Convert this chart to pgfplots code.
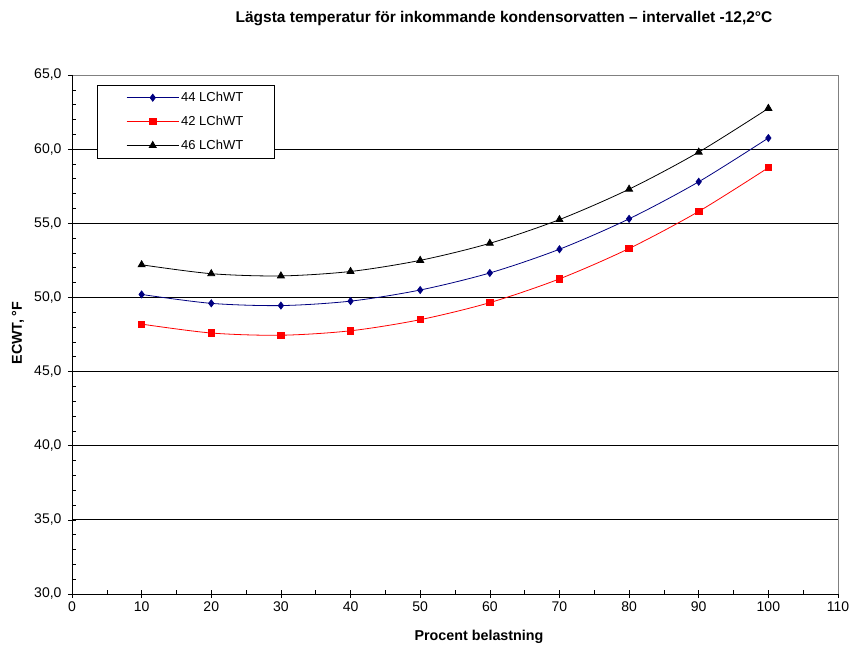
\documentclass[border=0pt]{standalone}
\usepackage{fontspec}
\setmainfont{Liberation Sans}
\usepackage{pgfplots}
\pgfplotsset{compat=1.18}
\definecolor{navyline}{HTML}{000080}
\definecolor{redline}{HTML}{FF0000}
\definecolor{frame}{HTML}{808080}

\begin{document}
\begin{tikzpicture}
\useasboundingbox (-72pt,-53pt) rectangle (779pt,594pt);
\begin{axis}[
  name=ax,
  at={(0pt,0pt)}, anchor=south west,
  scale only axis,
  width=766pt, height=519pt,
  xmin=0, xmax=110, ymin=30, ymax=65,
  xtick={0,10,...,110}, ytick={30,35,...,65},
  minor x tick num=1, minor y tick num=4,
  xtick pos=bottom, ytick pos=left,
  tick align=inside,
  major tick length=4pt, minor tick length=4pt,
  tick style={black, line width=0.6pt},
  extra x ticks={0,10,...,110}, extra x tick labels={},
  extra y ticks={30,35,...,65}, extra y tick labels={},
  extra tick style={tick align=outside, grid=none, major tick length=4pt},
  axis line style={frame, line width=0.75pt},
  ymajorgrids,
  grid style={black, line width=0.75pt},
  ticklabel style={font=\fontsize{14}{16}\selectfont},
  /pgf/number format/assume math mode=true,
  yticklabel style={/pgf/number format/fixed, /pgf/number format/fixed zerofill,
    /pgf/number format/precision=1, /pgf/number format/use comma, xshift=-7pt},
  xticklabel style={/pgf/number format/fixed, /pgf/number format/precision=0, yshift=-4pt},
  legend cell align=left,
  legend style={
    at={(axis description cs:0.0326,0.981)}, anchor=north west,
    draw=black, line width=0.75pt, fill=white,
    font=\fontsize{13}{15}\selectfont,
    inner xsep=29pt, inner ysep=5pt,
    row sep=9pt
  },
  legend image code/.code={
    \draw[mark repeat=2,mark phase=2,#1] plot coordinates {(0pt,0pt) (26pt,0pt) (52pt,0pt)};
  },
  clip=false
]
\addplot[navyline, line width=0.8pt, smooth, mark=diamond*, mark size=3.5pt, mark options={solid, fill=navyline}]
  coordinates {(10,50.2) (20,49.6) (30,49.45) (40,49.75) (50,50.5) (60,51.65) (70,53.25) (80,55.3) (90,57.8) (100,60.75)};
\addplot[redline, line width=0.8pt, smooth, mark=square*, mark size=3.2pt, mark options={solid, fill=redline}]
  coordinates {(10,48.2) (20,47.6) (30,47.45) (40,47.75) (50,48.5) (60,49.65) (70,51.25) (80,53.3) (90,55.8) (100,58.75)};
\addplot[black, line width=0.8pt, smooth, mark=triangle*, mark size=4pt, mark options={solid, fill=black}]
  coordinates {(10,52.2) (20,51.6) (30,51.45) (40,51.75) (50,52.5) (60,53.65) (70,55.25) (80,57.3) (90,59.8) (100,62.75)};
\legend{44 LChWT, 42 LChWT, 46 LChWT}
\end{axis}
\draw[black, line width=0.75pt] (ax.north west) -- (ax.south west) -- (ax.south east);
\node[font=\fontsize{15.5}{18}\selectfont\bfseries] at (432pt,575pt) {Lägsta temperatur för inkommande kondensorvatten – intervallet -12,2°C};
\node[font=\fontsize{14.3}{16}\selectfont\bfseries] at (407pt,-43pt) {Procent belastning};
\node[font=\fontsize{14.3}{16}\selectfont\bfseries, rotate=90] at (-54pt,261pt) {ECWT, °F};
\end{tikzpicture}
\end{document}
